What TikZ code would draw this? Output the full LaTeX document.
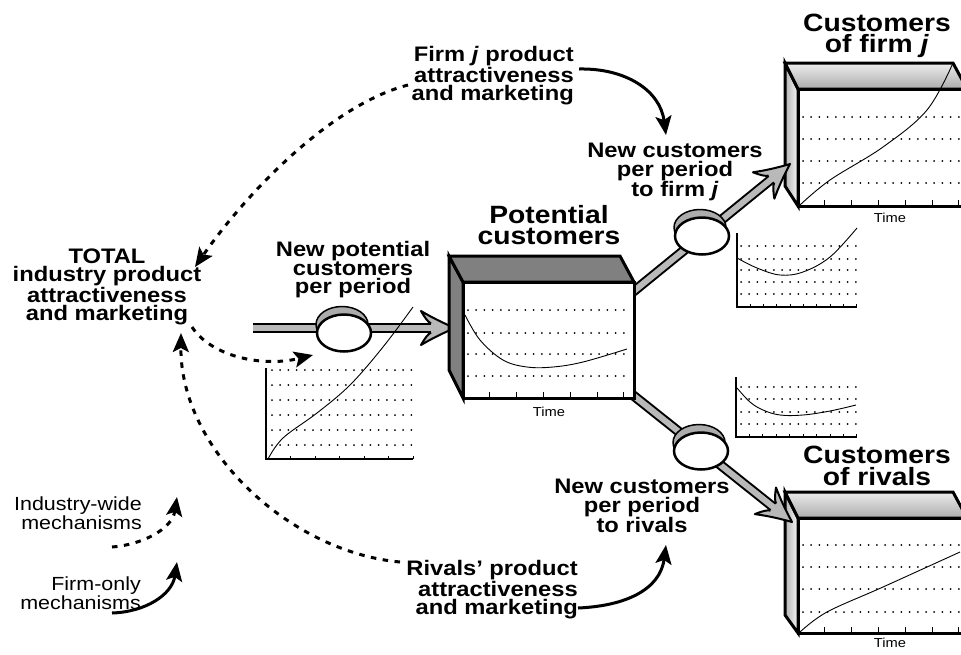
\documentclass[tikz,border=0pt]{standalone}
\usepackage{fontspec}
\setmainfont{Liberation Sans}[FakeStretch=1.13]
\usetikzlibrary{arrows.meta,calc}
\definecolor{boxgray}{RGB}{128,128,128}
\definecolor{pipegray}{RGB}{185,185,185}
\begin{document}
\begin{tikzpicture}[x=1pt,y=-1pt,
  lbl/.style={font=\fontsize{21}{18.5}\selectfont\bfseries, align=center, inner sep=0pt},
  biglbl/.style={font=\fontsize{25}{21.5}\selectfont\bfseries, align=center, inner sep=0pt},
  leg/.style={font=\fontsize{19}{17}\selectfont, align=right, inner sep=0pt},
  timelbl/.style={font=\fontsize{13}{13}\selectfont, inner sep=0pt},
  boxline/.style={line width=3pt, line join=miter},
  dotline/.style={line width=2pt, dash pattern=on 0pt off 8.2pt, line cap=round},
  axisline/.style={line width=1.5pt},
  tickline/.style={line width=1pt},
  curveline/.style={line width=0.9pt},
  pipe/.style={line width=2pt, double=pipegray, double distance=6pt},
  industry/.style={line width=3pt, dash pattern=on 5.5pt off 6.5pt, -{Stealth[length=19pt,width=16pt,inset=4pt]}},
  firmonly/.style={line width=3pt, -{Stealth[length=19pt,width=16pt,inset=4pt]}},
  pipehead/.pic={
    \fill[pipegray] (0,0) .. controls (-12,-5) and (-24,-11) .. (-34,-17) .. controls (-30,-10) and (-27,-6) .. (-24,-4.5) -- (-24,4.5) .. controls (-27,6) and (-30,10) .. (-34,17) .. controls (-24,11) and (-12,5) .. (0,0) -- cycle;
    \draw[line width=2pt, line join=round] (-24,-4.5) .. controls (-27,-6) and (-30,-10) .. (-34,-17) .. controls (-24,-11) and (-12,-5) .. (0,0) .. controls (-12,5) and (-24,11) .. (-34,17) .. controls (-30,10) and (-27,6) .. (-24,4.5);
  },
  valve/.pic={
    \filldraw[fill=gray!65, line width=1.5pt] (-2,-8.5) ellipse [x radius=26pt, y radius=18pt];
    \filldraw[fill=white, line width=2.5pt] (0,0) ellipse [x radius=27pt, y radius=18.5pt];
  }
]
\useasboundingbox (0,0) rectangle (961,654);
\fill[white] (0,0) rectangle (961,654);

% ---------- pipe end points ----------
\coordinate (inS) at (253,328);
\coordinate (inT) at (455,328);
\coordinate (fjS) at (620,302.4);
\coordinate (fjT) at (790,164);
\coordinate (rvS) at (620,384.8);
\coordinate (rvT) at (792,522);

% ---------- pipes ----------
\draw[pipe] (inS) -- ($(inT)!16pt!(inS)$);
\draw[pipe] (fjS) -- ($(fjT)!16pt!(fjS)$);
\draw[pipe] (rvS) -- ($(rvT)!16pt!(rvS)$);
\pic at (inT) {pipehead};

% ---------- valves ----------
\pic (vin) at (344,333) {valve};
\pic (vfj) at (702,236) {valve};
\pic (vrv) at (701,451) {valve};

% ---------- Potential customers stock ----------
\coordinate (pot) at (549,340);
\filldraw[boxline, fill=boxgray] (449,256) -- (463,282) -- (463,398) -- (449,370) -- cycle;
\filldraw[boxline, fill=boxgray] (449,256) -- (620,256) -- (634,282) -- (463,282) -- cycle;
\filldraw[boxline, fill=white] (463,282) rectangle (634,398);
\foreach \yy in {310,333,354,376} \draw[dotline] (468,\yy) -- (631,\yy);
\foreach \i in {1,...,6} \draw[tickline] (463+26.8*\i,398) -- ++(0,-6);
\draw[curveline] plot[smooth, tension=0.6] coordinates {(465,315) (480,340) (503,360) (527,367) (553,367) (583,362) (627,349)};
\node[timelbl] (t1) at (549,412) {Time};

% ---------- Customers of firm j stock ----------
\shadedraw[boxline, left color=gray!60, right color=gray!5] (785,63) -- (798,89) -- (798,206) -- (785,186) -- cycle;
\shadedraw[boxline, top color=gray!15, bottom color=gray!65] (785,63) -- (953,63) -- (967,89) -- (798,89) -- cycle;
\filldraw[boxline, fill=white] (798,89) rectangle (969,206);
\foreach \yy in {117,139,161,183} \draw[dotline] (803,\yy) -- (961,\yy);
\foreach \i in {1,...,6} \draw[tickline] (798+26.8*\i,206) -- ++(0,-6);
\draw[curveline] plot[smooth, tension=0.6] coordinates {(800,205) (830,180) (883,147) (927,110) (953,63)};
\node[timelbl] (t2) at (890,218) {Time};

% ---------- Customers of rivals stock ----------
\shadedraw[boxline, left color=gray!60, right color=gray!5] (785,492) -- (798,518) -- (798,633) -- (785,615) -- cycle;
\shadedraw[boxline, top color=gray!15, bottom color=gray!65] (785,492) -- (953,492) -- (967,518) -- (798,518) -- cycle;
\filldraw[boxline, fill=white] (798,518) rectangle (969,633);
\foreach \yy in {545,567,589,612} \draw[dotline] (803,\yy) -- (961,\yy);
\foreach \i in {1,...,6} \draw[tickline] (798+26.8*\i,633) -- ++(0,-6);
\draw[curveline] plot[smooth, tension=0.6] coordinates {(800,632) (827,612) (883,587) (960,552)};
\node[timelbl] (t3) at (890,643) {Time};

% ---------- arrowheads into customer stocks ----------
\pic[rotate=39.15] at (fjT) {pipehead};
\pic[rotate=-38.57] at (rvT) {pipehead};

% ---------- small graph: new potential customers ----------
\draw[axisline] (266,368) -- (266,459) -- (413,459);
\foreach \yy in {370,385,400,415,430,445} \draw[dotline] (272,\yy) -- (413,\yy);
\foreach \i in {1,...,6} \draw[tickline] (266+24.5*\i,459) -- ++(0,-3.5);
\draw[curveline] plot[smooth, tension=0.6] coordinates {(268,459) (283,438) (317,413) (350,385) (383,347) (413,307)};

% ---------- small graph: new customers to firm j ----------
\draw[axisline] (737,233) -- (737,307) -- (857,307);
\foreach \yy in {246,259,270,282,294} \draw[dotline] (741,\yy) -- (857,\yy);
\foreach \i in {1,...,9} \draw[tickline] (737+13.33*\i,307) -- ++(0,-3);
\draw[curveline] plot[smooth, tension=0.6] coordinates {(737,258) (757,268) (780,275) (803,272) (830,257) (857,228)};

% ---------- small graph: new customers to rivals ----------
\draw[axisline] (736,377) -- (736,437) -- (857,437);
\foreach \yy in {387,399,412,424} \draw[dotline] (741,\yy) -- (857,\yy);
\foreach \i in {1,...,9} \draw[tickline] (736+13.44*\i,437) -- ++(0,-3);
\draw[curveline] plot[smooth, tension=0.6] coordinates {(737,388) (750,402) (763,410) (780,415) (803,415) (830,411) (856,405)};

% ---------- labels ----------
\node[biglbl] (potlbl) at (549,225) {Potential\\customers};
\node[biglbl] (custj) at (877,36) {Customers\\of firm \textit{j}};
\node[biglbl] (custr) at (877,466) {Customers\\of rivals};
\node[lbl] (newpot) at (353,270) {New potential\\customers\\per period};
\node[lbl] (newfirm) at (675,172) {New customers\\per period\\to firm \textit{j}};
\node[lbl] (newriv) at (642,506) {New customers\\per period\\to rivals};
\node[lbl, align=right, anchor=east] (firmmk) at (574,76) {Firm \textit{j} product\\attractiveness\\and marketing};
\node[lbl, align=right, anchor=east] (rivmk) at (578,590) {Rivals’ product\\attractiveness\\and marketing};
\node[lbl] (total) at (107,287) {TOTAL\\industry product\\attractiveness\\and marketing};
\node[leg, anchor=east] (legind) at (142,513) {Industry-wide\\mechanisms};
\node[leg, anchor=east] (legfirm) at (141,593) {Firm-only\\mechanisms};

% ---------- influence arcs ----------
\coordinate (aS) at (408,85);   \coordinate (aT) at (195,267);
\coordinate (bS) at (192,327);  \coordinate (bT) at (313,355);
\coordinate (cS) at (400,562);  \coordinate (cT) at (181,333);
\coordinate (dS) at (579,69);   \coordinate (dT) at (666,135);
\coordinate (eS) at (578,608);  \coordinate (eT) at (666,545);
\coordinate (lS1) at (112,547); \coordinate (lT1) at (177,497);
\coordinate (lS2) at (112,613); \coordinate (lT2) at (177,562);

\draw[industry] (aS) .. controls (330,105) and (245,195) .. (aT);
\draw[industry] (bS) .. controls (210,355) and (260,368) .. (bT);
\draw[industry] (cS) .. controls (290,552) and (180,450) .. (cT);
\draw[firmonly] (dS) .. controls (625,68) and (660,90) .. (dT);
\draw[firmonly] (eS) .. controls (625,606) and (660,590) .. (eT);
\draw[industry] (lS1) .. controls (140,545) and (172,530) .. (lT1);
\draw[firmonly] (lS2) .. controls (145,612) and (172,595) .. (lT2);
\end{tikzpicture}
\end{document}
